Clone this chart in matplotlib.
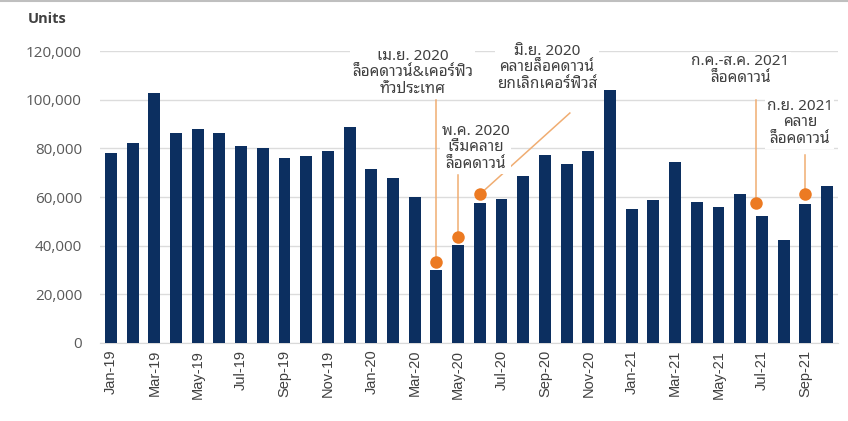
import matplotlib
matplotlib.use('Agg')
import matplotlib.pyplot as plt
from matplotlib.lines import Line2D
from matplotlib.ticker import FuncFormatter

# Monthly sales, Jan-2019 .. Oct-2021
months = ['Jan-19', 'Feb-19', 'Mar-19', 'Apr-19', 'May-19', 'Jun-19',
          'Jul-19', 'Aug-19', 'Sep-19', 'Oct-19', 'Nov-19', 'Dec-19',
          'Jan-20', 'Feb-20', 'Mar-20', 'Apr-20', 'May-20', 'Jun-20',
          'Jul-20', 'Aug-20', 'Sep-20', 'Oct-20', 'Nov-20', 'Dec-20',
          'Jan-21', 'Feb-21', 'Mar-21', 'Apr-21', 'May-21', 'Jun-21',
          'Jul-21', 'Aug-21', 'Sep-21', 'Oct-21']
units = [78000, 82400, 103000, 86300, 87900, 86300,
         81000, 80300, 76200, 77000, 79000, 88900,
         71400, 68000, 60100, 29900, 40200, 57700,
         59000, 68800, 77300, 73600, 79000, 104100,
         54900, 58800, 74300, 58100, 55800, 61400,
         52200, 42300, 57000, 64400]

# Event markers (month position, marker level)
event_x = [15, 16, 17, 29.75, 32]
event_y = [33300, 43400, 61100, 57700, 61100]
event_text = ['เม.ย. 2020\nล็อคดาวน์&เคอร์ฟิว\nทั่วประเทศ',
              'พ.ค. 2020\nเริ่มคลาย\nล็อคดาวน์',
              'มิ.ย. 2020\nคลายล็อคดาวน์\nยกเลิกเคอร์ฟิวส์',
              'ก.ค.-ส.ค. 2021\nล็อคดาวน์',
              'ก.ย. 2021\nคลาย\nล็อคดาวน์']
# where each label sits and where its leader line ends
label_pos = [(13.9, 111100), (16.8, 80200), (20.1, 113200),
             (29.0, 112400), (31.75, 90500)]
leader_end = [(15, 100000), (16, 69000), (21.15, 94600),
              (29.75, 100000), (32, 77300)]

thai_font = ['Noto Sans Thai Looped', 'Noto Sans']
bar_color = '#0c2f60'
orange = '#ec7a22'
leader = '#f0ad72'
text_gray = '#404040'

fig = plt.figure(figsize=(8.48, 4.21), dpi=100)
ax = fig.add_axes([0.118, 0.186, 0.870, 0.692])

x = list(range(len(months)))
ax.bar(x, units, width=0.55, color=bar_color, zorder=3)

# leader lines, then the orange dots on top
for (x0, y0), (x1, y1) in zip(zip(event_x, event_y), leader_end):
    ax.plot([x0, x1], [y0, y1], color=leader, lw=1.1, zorder=4)
ax.plot(event_x, event_y, 'o', color=orange, ms=9, mec='none', zorder=5)

for txt, (tx, ty) in zip(event_text, label_pos):
    ax.text(tx, ty, txt, ha='center', va='center', fontsize=11,
            family=thai_font, color=text_gray, linespacing=1.15, zorder=6,
            bbox=dict(boxstyle='square,pad=0.1', fc='white', ec='none'))

ax.set_xlim(-0.5, len(months) - 0.5)
ax.set_ylim(0, 120000)
ax.set_yticks(range(0, 120001, 20000))
ax.yaxis.set_major_formatter(FuncFormatter(lambda v, p: f'{int(v):,}'))
ax.set_xticks(x[::2])
ax.set_xticklabels(months[::2], rotation=90, fontsize=10.5,
                   family='Liberation Sans', color=text_gray)
ax.tick_params(axis='both', length=0)
ax.tick_params(axis='x', pad=5)
ax.tick_params(axis='y', pad=13, labelsize=11, labelcolor='#595959')
for lab in ax.get_yticklabels():
    lab.set_family('Open Sans')

ax.grid(axis='y', color='#dcdcdc', lw=1, zorder=0)
for s in ['top', 'right', 'left']:
    ax.spines[s].set_visible(False)
ax.spines['bottom'].set_color('#d9d9d9')

fig.text(0.056, 0.955, 'Units', ha='center', va='center', fontsize=10.5,
         fontweight='bold', family='Open Sans', color=text_gray)
fig.add_artist(Line2D([0, 1], [0.998, 0.998], transform=fig.transFigure,
                      color='#bfbfbf', lw=1.5))

fig.savefig('out.png', dpi=100)
